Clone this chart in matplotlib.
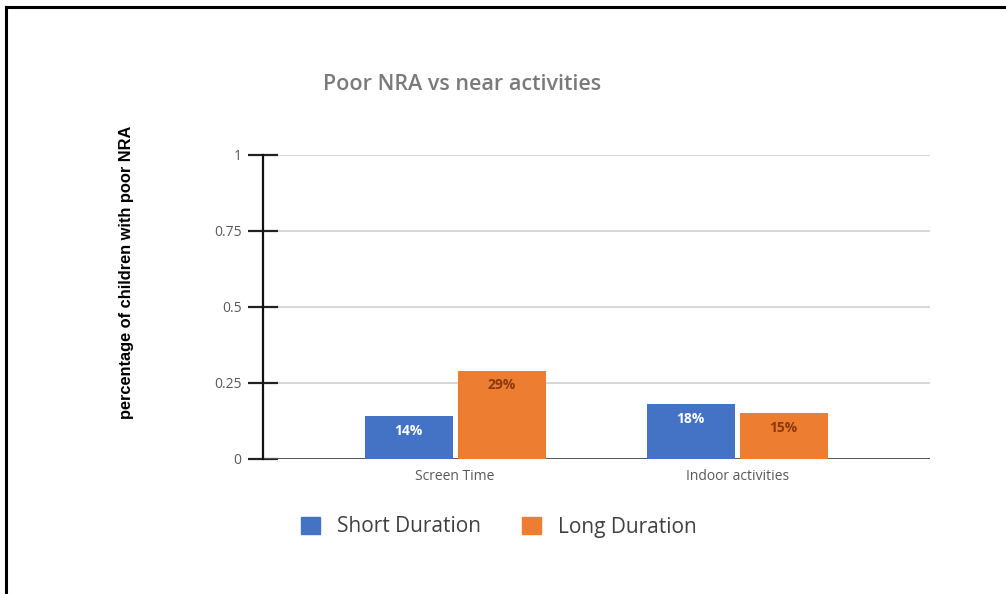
import numpy as np
import matplotlib.pyplot as plt
from matplotlib.lines import Line2D
from matplotlib.patches import Patch

categories = ["Screen Time", "Indoor activities"]
short_duration = [0.14, 0.18]
long_duration = [0.29, 0.15]
y_ticks = [0, 0.25, 0.5, 0.75, 1]
y_tick_labels = ["0", "0.25", "0.5", "0.75", "1"]

blue = "#4472C4"
orange = "#ED7D31"
grey_text = "#595959"

fig = plt.figure(figsize=(10.06, 5.94), dpi=100)
# axes: left 263px, right 930px, top 155px, bottom 459px
ax = fig.add_axes([263 / 1006, 1 - 459 / 594, (930 - 263) / 1006, (459 - 155) / 594])

x = np.arange(len(categories))
w = 0.312
gap = 0.009
b1 = ax.bar(x - w / 2 - gap, short_duration, w, color=blue, zorder=3)
b2 = ax.bar(x + w / 2 + gap, long_duration, w, color=orange, zorder=3)

for rect, v in zip(b1, short_duration):
    ax.text(rect.get_x() + rect.get_width() / 2, v - 0.047, f"{v:.0%}",
            ha="center", va="center", fontsize=10, color="white",
            fontfamily="Open Sans", fontweight="bold", zorder=4)
for rect, v in zip(b2, long_duration):
    ax.text(rect.get_x() + rect.get_width() / 2, v - 0.047, f"{v:.0%}",
            ha="center", va="center", fontsize=10, color="#8B3A0F",
            fontfamily="Open Sans", fontweight="bold", zorder=4)

ax.set_xlim(-0.681, 1.684)
ax.set_ylim(0, 1)
ax.set_yticks(y_ticks)
ax.set_yticklabels(y_tick_labels, fontsize=10, color=grey_text, fontfamily="Open Sans")
ax.set_xticks(x)
ax.set_xticklabels(categories, fontsize=10, color=grey_text, fontfamily="Open Sans")
ax.tick_params(axis="x", length=0, pad=7)
ax.tick_params(axis="y", direction="inout", length=21, width=1.6, color="#222222", pad=5)

ax.grid(axis="y", color="#d0d0d0", linewidth=1.2, zorder=0)
for s in ["top", "right", "bottom"]:
    ax.spines[s].set_visible(False)
ax.spines["left"].set_color("#111111")
ax.spines["left"].set_linewidth(1.6)
ax.axhline(0, color="#555555", linewidth=1.4, zorder=2)

fig.text(462 / 1006, 1 - 84 / 594, "Poor NRA vs near activities", ha="center", va="center",
         fontsize=15.5, color="#7a7a7a", fontfamily="Open Sans", fontweight="semibold")
fig.text(127 / 1006, 1 - 272 / 594, "percentage of children with poor NRA", ha="center",
         va="center", rotation=90, fontsize=11.8, fontweight="bold",
         fontfamily="Liberation Sans", color="black")

handles = [Patch(color=blue, label="Short Duration"), Patch(color=orange, label="Long Duration")]
fig.legend(handles=handles, loc="center", bbox_to_anchor=(499 / 1006, 1 - 527 / 594), ncol=2,
           frameon=False, prop={"family": "Open Sans", "size": 15}, handlelength=0.9,
           handleheight=0.9, handletextpad=0.8, columnspacing=2.0, labelcolor="#404040")

# page border on the top and left edges
fig.add_artist(Line2D([6 / 1006, 6 / 1006], [0, 1 - 6.5 / 594], color="black", linewidth=2.2))
fig.add_artist(Line2D([6 / 1006, 1], [1 - 6.5 / 594, 1 - 6.5 / 594], color="black", linewidth=2.2))

fig.savefig("out.png", dpi=100)
